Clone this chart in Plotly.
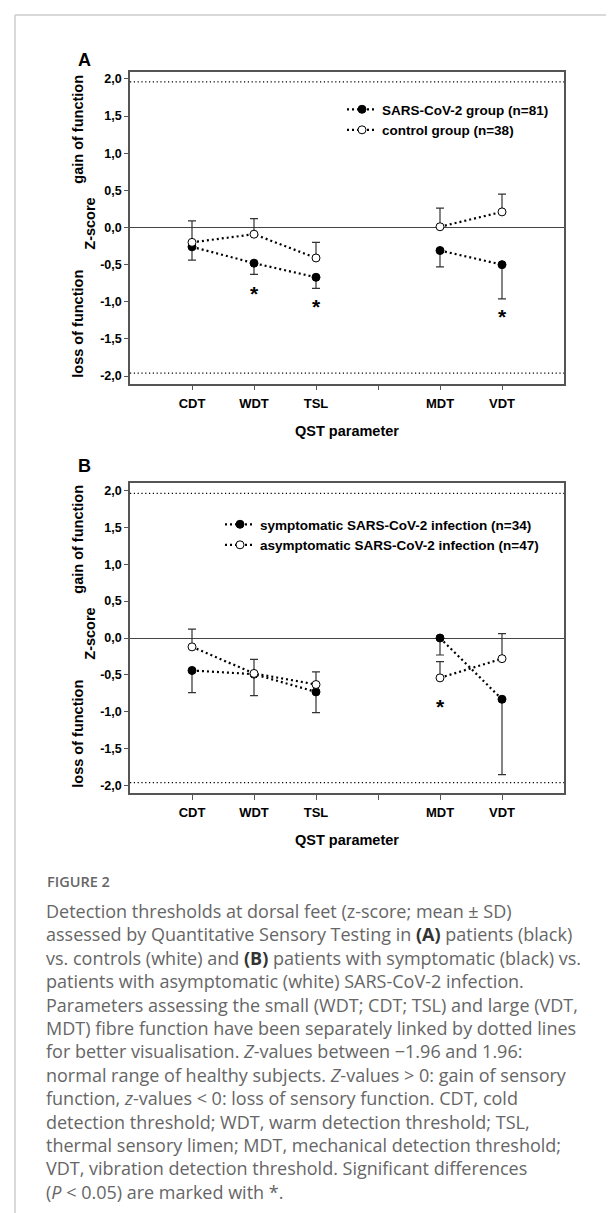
import plotly.graph_objects as go

W, H = 614, 1213

# ---------------- data ----------------
CATEGORIES = ["CDT", "WDT", "TSL", "", "MDT", "VDT"]
X_POS = [1, 2, 3, 4, 5, 6]
Y_TICKS = [-2.0, -1.5, -1.0, -0.5, 0.0, 0.5, 1.0, 1.5, 2.0]
Y_TICK_TEXT = ["-2,0", "-1,5", "-1,0", "-0,5", "0,0", "0,5", "1,0", "1,5", "2,0"]
NORMAL_LIMITS = [-1.96, 1.96]

# Panel A
A_SARS_MEAN = [-0.26, -0.48, -0.67, None, -0.31, -0.50]
A_SARS_SD = [0.18, 0.15, 0.15, None, 0.22, 0.46]
A_CTRL_MEAN = [-0.20, -0.09, -0.41, None, 0.01, 0.21]
A_CTRL_SD = [0.29, 0.21, 0.21, None, 0.25, 0.24]
A_SIG_CATS = ["WDT", "TSL", "VDT"]
A_SIG_Y = [-0.915, -1.095, -1.225]
A_NAMES = ["SARS-CoV-2 group (n=81)", "control group (n=38)"]

# Panel B
B_SYM_MEAN = [-0.44, -0.49, -0.73, None, 0.00, -0.83]
B_SYM_SD = [0.30, 0.29, 0.28, None, 0.23, 1.02]
B_ASYM_MEAN = [-0.12, -0.48, -0.63, None, -0.54, -0.28]
B_ASYM_SD = [0.24, 0.19, 0.17, None, 0.22, 0.34]
B_SIG_CATS = ["MDT"]
B_SIG_Y = [-0.955]
B_NAMES = ["symptomatic SARS-CoV-2 infection (n=34)",
           "asymptomatic SARS-CoV-2 infection (n=47)"]

CAPTION_TITLE = "FIGURE 2"
BOLD_A = "<span style='color:#333333'><b>(A)</b></span>"
BOLD_B = "<span style='color:#333333'><b>(B)</b></span>"
CAPTION_LINES = [
    "Detection thresholds at dorsal feet (z-score; mean ± SD)",
    "assessed by Quantitative Sensory Testing in " + BOLD_A + " patients (black)",
    "vs. controls (white) and " + BOLD_B + " patients with symptomatic (black) vs.",
    "patients with asymptomatic (white) SARS-CoV-2 infection.",
    "Parameters assessing the small (WDT; CDT; TSL) and large (VDT,",
    "MDT) fibre function have been separately linked by dotted lines",
    "for better visualisation. <i>Z</i>-values between −1.96 and 1.96:",
    "normal range of healthy subjects. <i>Z</i>-values &gt; 0: gain of sensory",
    "function, <i>z</i>-values &lt; 0: loss of sensory function. CDT, cold",
    "detection threshold; WDT, warm detection threshold; TSL,",
    "thermal sensory limen; MDT, mechanical detection threshold;",
    "VDT, vibration detection threshold. Significant differences",
    "(<i>P</i> &lt; 0.05) are marked with *.",
]

# ---------------- style ----------------
FONT = "Liberation Sans, Arial, sans-serif"
CAP_FONT = "Open Sans, Noto Sans, sans-serif"
AXIS_COLOR = "#555555"
ERR_COLOR = "#333333"


def px(x):
    return x / W


def py(y):
    return 1 - y / H


fig = go.Figure()


def add_panel(fig, xa, ya, legend, m1, sd1, m2, sd2, names, sig_cats, sig_y):
    # filled series (error bars downward)
    fig.add_trace(go.Scatter(
        x=X_POS, y=m1, mode="lines+markers", name=names[0],
        xaxis=xa, yaxis=ya, legend=legend, connectgaps=False,
        line=dict(color="black", width=2.2, dash="2px,3px"),
        marker=dict(symbol="circle", size=8, color="black",
                    line=dict(color="black", width=1)),
        error_y=dict(type="data", symmetric=False,
                     array=[0 if v is not None else None for v in sd1],
                     arrayminus=sd1, color=ERR_COLOR, thickness=1.2, width=4),
    ))
    # open series (error bars upward)
    fig.add_trace(go.Scatter(
        x=X_POS, y=m2, mode="lines+markers", name=names[1],
        xaxis=xa, yaxis=ya, legend=legend, connectgaps=False,
        line=dict(color="black", width=2.2, dash="2px,3px"),
        marker=dict(symbol="circle", size=8, color="white",
                    line=dict(color="black", width=1)),
        error_y=dict(type="data", symmetric=False, array=sd2,
                     arrayminus=[0 if v is not None else None for v in sd2],
                     color=ERR_COLOR, thickness=1.2, width=4),
    ))
    # significance markers
    fig.add_trace(go.Scatter(
        x=[X_POS[CATEGORIES.index(c)] for c in sig_cats], y=sig_y,
        mode="text", text=["*"] * len(sig_cats), textposition="middle center",
        textfont=dict(family=FONT, size=21, color="black", weight="bold"),
        xaxis=xa, yaxis=ya, showlegend=False, hoverinfo="skip",
    ))


add_panel(fig, "x", "y", "legend", A_SARS_MEAN, A_SARS_SD, A_CTRL_MEAN,
          A_CTRL_SD, A_NAMES, A_SIG_CATS, A_SIG_Y)
add_panel(fig, "x2", "y2", "legend2", B_SYM_MEAN, B_SYM_SD, B_ASYM_MEAN,
          B_ASYM_SD, B_NAMES, B_SIG_CATS, B_SIG_Y)

xdom = [px(122), px(556)]
A_Y = [py(375.5), py(63.5)]
B_Y = [py(785), py(475)]

common_x = dict(
    range=[0, 7], tickmode="array", tickvals=X_POS, ticktext=CATEGORIES,
    showline=True, linecolor=AXIS_COLOR, linewidth=1.5, mirror=True,
    ticks="outside", ticklen=5, tickwidth=1.2, tickcolor=AXIS_COLOR,
    showgrid=False, zeroline=False, ticklabelstandoff=2,
    tickfont=dict(family=FONT, size=13, color="black", weight="bold"),
)
common_y = dict(
    range=[-2.1, 2.1], tickmode="array", tickvals=Y_TICKS, ticktext=Y_TICK_TEXT,
    showline=True, linecolor=AXIS_COLOR, linewidth=1.5, mirror=True,
    ticks="outside", ticklen=4, tickwidth=1.2, tickcolor=AXIS_COLOR,
    showgrid=False, zeroline=True, zerolinecolor="#444444", zerolinewidth=1.2,
    tickfont=dict(family=FONT, size=12.5, color="black", weight="bold"),
)

LEG_FONT = dict(family=FONT, size=13.5, color="black", weight="bold")
fig.update_layout(
    width=W, height=H, margin=dict(l=0, r=0, t=0, b=0),
    paper_bgcolor="white", plot_bgcolor="white",
    xaxis=dict(domain=xdom, anchor="y", **common_x),
    yaxis=dict(domain=A_Y, anchor="x", **common_y),
    xaxis2=dict(domain=xdom, anchor="y2", **common_x),
    yaxis2=dict(domain=B_Y, anchor="x2", **common_y),
    legend=dict(x=px(334), y=py(86), xanchor="left", yanchor="top",
                bgcolor="rgba(0,0,0,0)", itemwidth=30, font=LEG_FONT),
    legend2=dict(x=px(212), y=py(501), xanchor="left", yanchor="top",
                 bgcolor="rgba(0,0,0,0)", itemwidth=30, font=LEG_FONT),
    showlegend=True,
)

# reference limits of normal range (dotted)
for ya in ["y", "y2"]:
    for lim in NORMAL_LIMITS:
        fig.add_shape(type="line", xref=("x domain" if ya == "y" else "x2 domain"),
                      yref=ya, x0=0, x1=1, y0=lim, y1=lim,
                      line=dict(color="black", width=1.2, dash="1.2px,2.6px"))

# outer frame (page border)
fig.add_shape(type="line", xref="paper", yref="paper", x0=px(7), x1=1,
              y0=py(7), y1=py(7), line=dict(color="#cccccc", width=1.5))
fig.add_shape(type="line", xref="paper", yref="paper", x0=px(7), x1=px(7),
              y0=py(7), y1=0, line=dict(color="#cccccc", width=1.5))

ann = []
title_font = dict(family=FONT, size=14.5, color="black", weight="bold")
C = dict(xref="paper", yref="paper", showarrow=False,
         xanchor="center", yanchor="middle")
for label, ly, zero in [("A", 52, 219.7), ("B", 458, 629.7)]:
    ann.append(dict(text=label, x=px(76), y=py(ly),
                    font=dict(family=FONT, size=18, color="black", weight="bold"),
                    **C))
    ann.append(dict(text="gain of function", x=px(70), y=py(zero - 98),
                    textangle=-90, font=title_font, **C))
    ann.append(dict(text="Z-score", x=px(82), y=py(zero - 4),
                    textangle=-90, font=title_font, **C))
    ann.append(dict(text="loss of function", x=px(70), y=py(zero + 96),
                    textangle=-90, font=title_font, **C))
for qy in [422.5, 832.5]:
    ann.append(dict(text="QST parameter", x=(xdom[0] + xdom[1]) / 2, y=py(qy),
                    font=title_font, **C))

L = dict(xref="paper", yref="paper", showarrow=False,
         xanchor="left", yanchor="middle")
ann.append(dict(text=CAPTION_TITLE, x=px(37), y=py(873),
                font=dict(family=CAP_FONT, size=14.5, color="#666666", weight=600),
                **L))
for i, line in enumerate(CAPTION_LINES):
    ann.append(dict(text=line, x=px(36), y=py(903 + i * 23.4),
                    font=dict(family=CAP_FONT, size=18, color="#666666"), **L))

fig.update_layout(annotations=ann)
fig.write_html("out.html")
